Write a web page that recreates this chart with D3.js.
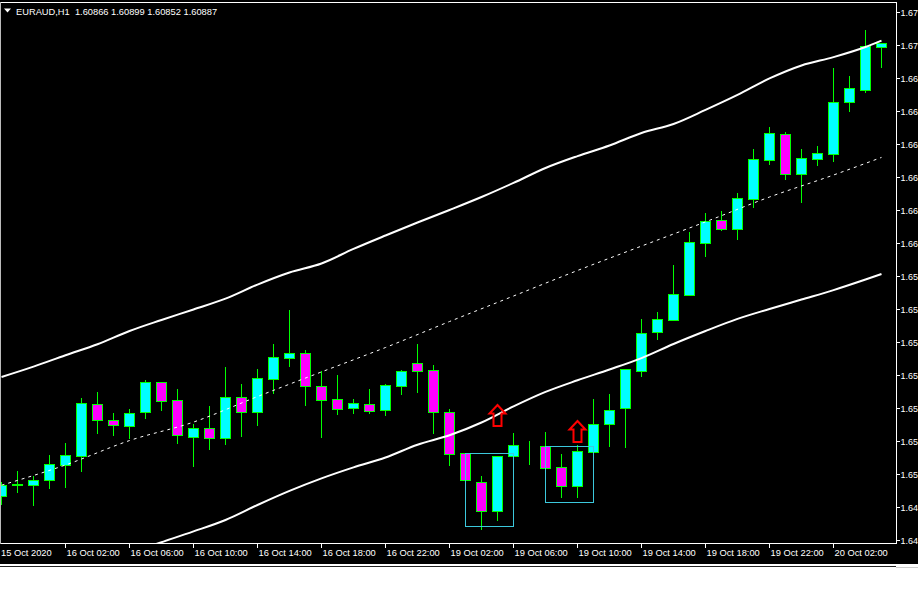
<!DOCTYPE html>
<html><head><meta charset="utf-8">
<script src="https://cdn.jsdelivr.net/npm/d3@7/dist/d3.min.js"></script>
<style>
html,body{margin:0;padding:0;background:#fff;}
svg{display:block;}
text{font-family:"Liberation Sans",Arial,sans-serif;font-size:9.3px;fill:#fff;white-space:pre;}
</style></head><body>
<svg id="c" width="918" height="614"></svg>
<script>
const titleText = "EURAUD,H1  1.60866 1.60899 1.60852 1.60887";

const opens = [1.64949,1.65000,1.65001,1.65021,1.65092,1.65133,1.65367,1.65295,1.65270,1.65330,
1.65467,1.65385,1.65220,1.65258,1.65212,1.65399,1.65330,1.65483,1.65579,1.65599,
1.65449,1.65390,1.65351,1.65367,1.65342,1.65451,1.65555,1.65521,1.65330,1.65144,
1.65012,1.64880,1.65130,1.65178,1.65176,1.65080,1.64994,1.65149,1.65276,1.65349,
1.65520,1.65694,1.65749,1.65865,1.66101,1.66203,1.66165,1.66301,1.66479,1.66594,
1.66415,1.66483,1.66506,1.66740,1.66797,1.66992];
const highs = [1.65015,1.65064,1.65040,1.65136,1.65191,1.65394,1.65421,1.65326,1.65344,1.65477,
1.65470,1.65436,1.65276,1.65359,1.65536,1.65459,1.65527,1.65641,1.65795,1.65614,
1.65518,1.65500,1.65391,1.65436,1.65459,1.65523,1.65641,1.65545,1.65345,1.65144,
1.65040,1.65132,1.65235,1.65199,1.65240,1.65141,1.65180,1.65391,1.65414,1.65526,
1.65755,1.65786,1.66000,1.66150,1.66236,1.66245,1.66327,1.66527,1.66627,1.66603,
1.66527,1.66541,1.66896,1.66859,1.67068,1.67008];
const lows = [1.64915,1.64968,1.64910,1.64988,1.64992,1.65065,1.65238,1.65229,1.65215,1.65306,
1.65342,1.65192,1.65088,1.65165,1.65188,1.65224,1.65274,1.65420,1.65542,1.65365,
1.65220,1.65324,1.65329,1.65327,1.65320,1.65414,1.65423,1.65236,1.65091,1.65021,
1.64801,1.64842,1.65130,1.65097,1.65076,1.64947,1.64947,1.65149,1.65179,1.65174,
1.65495,1.65665,1.65749,1.65865,1.66042,1.66159,1.66120,1.66265,1.66460,1.66392,
1.66288,1.66456,1.66474,1.66701,1.66788,1.66901];
const closes = [1.64999,1.65003,1.65023,1.65094,1.65135,1.65371,1.65294,1.65271,1.65326,1.65467,
1.65380,1.65226,1.65258,1.65212,1.65399,1.65330,1.65485,1.65580,1.65599,1.65451,
1.65388,1.65347,1.65373,1.65338,1.65455,1.65518,1.65520,1.65330,1.65142,1.65021,
1.64880,1.65130,1.65180,1.65179,1.65076,1.64994,1.65153,1.65276,1.65340,1.65526,
1.65690,1.65753,1.65867,1.66103,1.66199,1.66165,1.66303,1.66480,1.66599,1.66415,
1.66485,1.66508,1.66740,1.66803,1.66996,1.67008];

// channel lines (bar index, price)
const upperIdx = [0,2,4,6,8,10,12,14,16,18,20,22,24,26,28,30,32,34,36,38,40,42,44,46,48,50,52,54,55];
const upperVal = [1.65491,1.65538,1.65590,1.65640,1.65700,1.65750,1.65798,1.65847,1.65911,1.65966,
1.66007,1.66073,1.66134,1.66193,1.66250,1.66309,1.66373,1.66441,1.66495,1.66543,
1.66600,1.66641,1.66705,1.66773,1.66848,1.66907,1.66945,1.66991,1.67020];
const midIdx = [0,4,8,12,16,20,24,28,32,36,40,44,48,52,55];
const midVal = [1.64999,1.65091,1.65202,1.65286,1.65402,1.65514,1.65625,1.65743,1.65859,1.65975,
1.66086,1.66196,1.66309,1.66409,1.66489];
const lowerIdx = [8,10,12,14,16,18,20,22,24,26,28,30,32,34,36,38,40,42,44,46,48,50,52,54,55];
const lowerVal = [1.64691,1.64740,1.64789,1.64841,1.64909,1.64973,1.65030,1.65080,1.65125,1.65183,
1.65226,1.65284,1.65357,1.65423,1.65476,1.65525,1.65577,1.65641,1.65700,1.65755,
1.65800,1.65843,1.65886,1.65934,1.65959];

// annotations
const boxes = [{i0:29,i1:32,p0:1.65144,p1:1.64812},{i0:34,i1:37,p0:1.65176,p1:1.64921}];
const arrowIdx = [31,36];
const arrowPrice = [1.65270,1.65197];

// axes
const yTicks = [1.6475,1.6490,1.6505,1.6520,1.6535,1.6550,1.6565,1.6580,1.6595,1.6610,1.6625,1.6640,1.6655,1.6670,1.6685,1.6700,1.6715];
const yTickLabels = ["1.64","1.64","1.65","1.65","1.65","1.65","1.65","1.65","1.65","1.66","1.66","1.66","1.66","1.66","1.66","1.67","1.67"];
const xTickIdx = [4,8,12,16,20,24,28,32,36,40,44,48,52];
const xTickLabels = ["16 Oct 02:00","16 Oct 06:00","16 Oct 10:00","16 Oct 14:00","16 Oct 18:00","16 Oct 22:00","19 Oct 02:00","19 Oct 06:00","19 Oct 10:00","19 Oct 14:00","19 Oct 18:00","19 Oct 22:00","20 Oct 02:00"];
const firstLabel = "15 Oct 2020";

const svg = d3.select("#c");
const L = 0, R = 896, T = 2, B = 543;
const x = d3.scaleLinear().domain([0,55]).range([1.5, 881.5]);
const y = d3.scaleLinear().domain([1.6475,1.6715]).range([540,12]);
const cy = v => Math.round(y(v)) + 0.5;

svg.append("rect").attr("x",0).attr("y",0).attr("width",918).attr("height",564).attr("fill","#000");
svg.append("line").attr("x1",0).attr("x2",896).attr("y1",566.5).attr("y2",566.5).attr("stroke","#222").attr("stroke-width",1);
svg.append("line").attr("x1",896).attr("x2",918).attr("y1",567.5).attr("y2",567.5).attr("stroke","#ccc").attr("stroke-width",1);

svg.append("defs").append("clipPath").attr("id","pc").append("rect")
  .attr("x",L).attr("y",T).attr("width",R-L).attr("height",B-T);
const g = svg.append("g").attr("clip-path","url(#pc)");

const bars = d3.range(opens.length).map(i => ({i, o:opens[i], h:highs[i], l:lows[i], c:closes[i]}));
const cg = g.append("g");
cg.selectAll("line.w").data(bars).join("line").attr("class","w")
  .attr("x1",d=>x(d.i)).attr("x2",d=>x(d.i))
  .attr("y1",d=>Math.round(y(d.h))).attr("y2",d=>Math.round(y(d.l))+1)
  .attr("stroke","#00ff00").attr("stroke-width",1);
cg.selectAll("rect.b").data(bars).join("rect").attr("class","b")
  .attr("x",d=>x(d.i)-5).attr("width",10)
  .attr("y",d=>cy(Math.max(d.o,d.c)))
  .attr("height",d=>Math.max(0, cy(Math.min(d.o,d.c)) - cy(Math.max(d.o,d.c))))
  .attr("fill",d=>d.c>=d.o ? "#00ffff" : "#ff00ff")
  .attr("stroke","#00ff00").attr("stroke-width",1);

const line = d3.line().x(d=>x(d[0])).y(d=>y(d[1])).curve(d3.curveMonotoneX);
g.append("path").attr("d", line(d3.zip(upperIdx, upperVal))).attr("fill","none").attr("stroke","#fff").attr("stroke-width",2);
g.append("path").attr("d", line(d3.zip(lowerIdx, lowerVal))).attr("fill","none").attr("stroke","#fff").attr("stroke-width",2);
g.append("path").attr("d", line(d3.zip(midIdx, midVal))).attr("fill","none").attr("stroke","#fff").attr("stroke-width",1).attr("stroke-dasharray","3,4");

g.selectAll("rect.box").data(boxes).join("rect").attr("class","box")
  .attr("x",d=>x(d.i0)).attr("width",d=>x(d.i1)-x(d.i0))
  .attr("y",d=>cy(d.p0)).attr("height",d=>cy(d.p1)-cy(d.p0))
  .attr("fill","none").attr("stroke","#3cc8dc").attr("stroke-width",1);

const arrowPath = "M0,-21 L8,-12.5 L4,-12.5 L4,0 L-4,0 L-4,-12.5 L-8,-12.5 Z";
g.selectAll("path.arr").data(arrowIdx.map((i,k)=>({i,p:arrowPrice[k]}))).join("path").attr("class","arr")
  .attr("transform",d=>`translate(${x(d.i)},${Math.round(y(d.p))})`)
  .attr("d",arrowPath).attr("fill","none").attr("stroke","#f00").attr("stroke-width",2).attr("stroke-linejoin","miter");

// frame
svg.append("line").attr("x1",0).attr("x2",R+0.5).attr("y1",2.5).attr("y2",2.5).attr("stroke","#fff");
svg.append("line").attr("x1",R+0.5).attr("x2",R+0.5).attr("y1",2).attr("y2",B+1).attr("stroke","#fff");
svg.append("line").attr("x1",0).attr("x2",R+1).attr("y1",B+0.5).attr("y2",B+0.5).attr("stroke","#fff");
svg.append("line").attr("x1",0.5).attr("x2",0.5).attr("y1",2).attr("y2",B+1).attr("stroke","#bbb");

// y axis
const ya = svg.append("g");
ya.selectAll("line").data(yTicks).join("line")
  .attr("x1",R).attr("x2",R+4).attr("y1",d=>cy(d)).attr("y2",d=>cy(d)).attr("stroke","#fff");
ya.selectAll("text").data(yTicks).join("text")
  .attr("x",900.5).attr("y",d=>y(d)+3.5).style("font-size","9px").text((d,k)=>yTickLabels[k]);

// x axis
const xa = svg.append("g");
xa.selectAll("line").data(xTickIdx).join("line")
  .attr("x1",d=>x(d)).attr("x2",d=>x(d)).attr("y1",B).attr("y2",B+5).attr("stroke","#fff");
xa.selectAll("text").data(xTickIdx).join("text")
  .attr("x",d=>x(d)+1).attr("y",556).text((d,k)=>xTickLabels[k]);
xa.append("text").attr("x",1).attr("y",556).text(firstLabel);

// title
svg.append("path").attr("d","M4,8.5 L11,8.5 L7.5,12.5 Z").attr("fill","#fff");
svg.append("text").attr("x",16).attr("y",14.5).text(titleText);
</script>
</body></html>
